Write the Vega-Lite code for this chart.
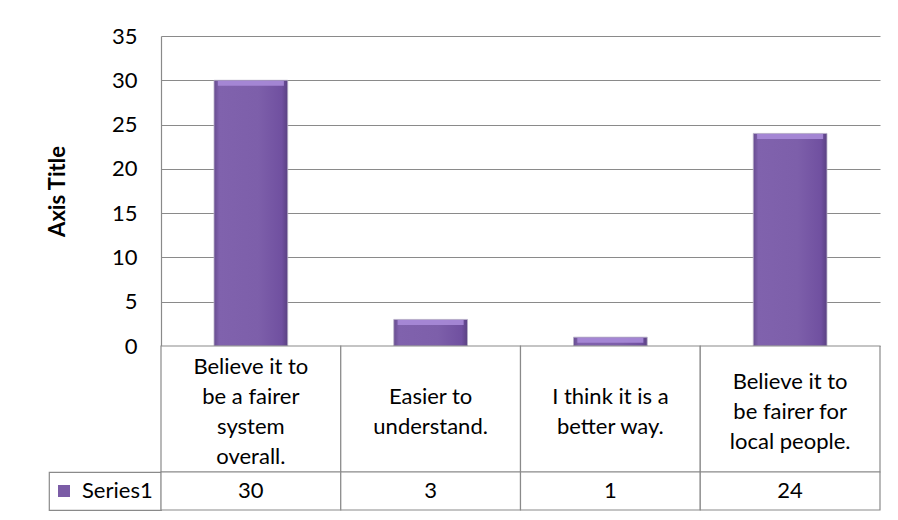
{
  "$schema": "https://vega.github.io/schema/vega-lite/v6.json",
  "background": "white",
  "padding": {"left": 46, "top": 25, "right": 5, "bottom": 5},
  "config": {
    "font": "Lato",
    "text": {"font": "Lato", "color": "black"}
  },
  "datasets": {
    "survey": [
      {"category": "Believe it to\nbe a fairer\nsystem\noverall.", "value": 30},
      {"category": "Easier to\nunderstand.", "value": 3},
      {"category": "I think it is a\nbetter way.", "value": 1},
      {"category": "Believe it to\nbe fairer for\nlocal people.", "value": 24}
    ]
  },
  "columns": 2,
  "spacing": 0,
  "bounds": "flush",
  "resolve": {"scale": {"color": "independent"}, "legend": {"color": "independent"}},
  "concat": [
    {
      "width": 112, "height": 310,
      "view": {"stroke": null},
      "data": {"values": [{"t": ""}]},
      "mark": {"type": "text"},
      "encoding": {"text": {"field": "t"}}
    },
    {
      "width": 719,
      "height": 310,
      "view": {"stroke": null},
      "data": {"name": "survey"},
      "encoding": {
        "x": {"field": "category", "type": "nominal", "sort": null, "axis": null,
              "scale": {"paddingInner": 0, "paddingOuter": 0}},
        "y": {"field": "value", "type": "quantitative",
              "scale": {"domain": [0, 35], "nice": false},
              "axis": {"values": [0, 5, 10, 15, 20, 25, 30, 35], "title": "Axis Title",
                       "titleFont": "Lato", "titleFontSize": 22, "titleFontWeight": "bold", "titleColor": "black",
                       "titlePadding": 42,
                       "labelFont": "Lato", "labelFontSize": 22, "labelColor": "black", "labelPadding": 24,
                       "ticks": false, "grid": true, "gridColor": "#8a8a8a", "gridWidth": 1.2,
                       "domain": true, "domainColor": "#8a8a8a", "domainWidth": 1.2}}
      },
      "layer": [
        {"mark": {"type": "bar", "width": {"band": 0.41},
                  "fill": {"gradient": "linear", "x1": 0, "y1": 0, "x2": 1, "y2": 0,
                           "stops": [{"offset": 0, "color": "#674c90"},
                                     {"offset": 0.07, "color": "#8062ad"},
                                     {"offset": 0.6, "color": "#7d5faa"},
                                     {"offset": 0.92, "color": "#7050a0"},
                                     {"offset": 1, "color": "#5a4182"}]},
                  "stroke": "#b8b0c8", "strokeWidth": 0.8}},
        {"mark": {"type": "tick", "size": 66, "thickness": 5, "yOffset": 3, "color": "#a88bd8", "opacity": 0.9}}
      ]
    },
    {
      "width": 112, "height": 126,
      "view": {"stroke": null},
      "data": {"values": [{"t": ""}]},
      "mark": {"type": "text"},
      "encoding": {"text": {"field": "t"}}
    },
    {
      "width": 719, "height": 126,
      "view": {"stroke": null},
      "data": {"name": "survey"},
      "transform": [{"calculate": "length(split(datum.category, '\\n'))", "as": "nLines"}],
      "encoding": {
        "x": {"field": "category", "type": "nominal", "sort": null, "axis": null,
              "scale": {"paddingInner": 0, "paddingOuter": 0}}
      },
      "layer": [
        {"mark": {"type": "rect", "fill": "white", "stroke": "#8a8a8a", "strokeWidth": 1.2}},
        {"mark": {"type": "text", "font": "Lato", "fontSize": 22, "lineBreak": "\n", "lineHeight": 30, "baseline": "middle"},
         "encoding": {
           "text": {"field": "category"},
           "y": {"field": "nLines", "type": "quantitative", "scale": {"domain": [-3, 5.4], "nice": false, "zero": false}, "axis": null}
         }}
      ]
    },
    {
      "width": 112, "height": 38,
      "view": {"stroke": "#8a8a8a", "strokeWidth": 1.2},
      "data": {"values": [{"series": "Series1"}]},
      "mark": {"type": "point", "shape": "square", "filled": true, "opacity": 0},
      "encoding": {
        "color": {"field": "series", "type": "nominal",
                  "scale": {"range": ["#7b5ca6"]},
                  "legend": {"title": null, "orient": "none", "legendX": 4, "legendY": 8, "padding": 0,
                             "symbolType": "square", "symbolSize": 144, "symbolOpacity": 1,
                             "symbolStrokeWidth": 0,
                             "labelFont": "Lato", "labelFontSize": 22, "labelColor": "black", "labelOffset": 7}}
      }
    },
    {
      "width": 719, "height": 38,
      "view": {"stroke": null},
      "data": {"name": "survey"},
      "encoding": {
        "x": {"field": "category", "type": "nominal", "sort": null, "axis": null,
              "scale": {"paddingInner": 0, "paddingOuter": 0}}
      },
      "layer": [
        {"mark": {"type": "rect", "fill": "white", "stroke": "#8a8a8a", "strokeWidth": 1.2}},
        {"mark": {"type": "text", "font": "Lato", "fontSize": 22, "baseline": "middle"},
         "encoding": {"text": {"field": "value", "type": "quantitative"}}}
      ]
    }
  ]
}
